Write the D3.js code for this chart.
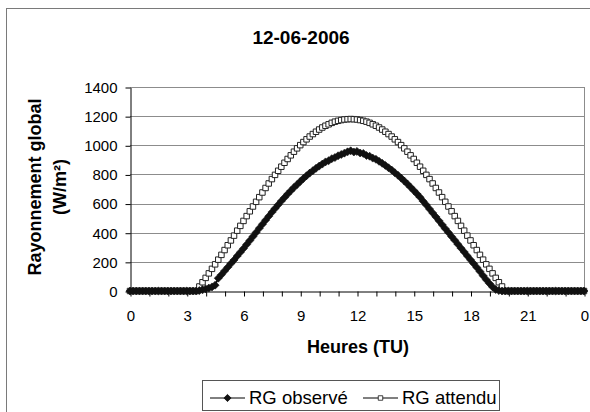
<!DOCTYPE html>
<html>
<head>
<meta charset="utf-8">
<script src="https://cdn.jsdelivr.net/npm/d3@7"></script>
<style>
body { margin: 0; background: #fff; }
text { font-family: "Liberation Sans", Arial, sans-serif; fill: #000; }
</style>
</head>
<body>
<div id="chart"></div>
<script>
// chart texts
var mainTitle = "12-06-2006";
var xTitle = "Heures (TU)";
var yTitleLines = ["Rayonnement global", "(W/m²)"];
var seriesNames = ["RG observé", "RG attendu"];

// x categories are 10 minute steps, 0:00 .. 24:00 (145 values)
var xTickLabels = ["0", "3", "6", "9", "12", "15", "18", "21", "0"];
var yTickValues = [0, 200, 400, 600, 800, 1000, 1200, 1400];

// RG observé (W/m2), one value every 10 minutes
var rgObserve = [
	0, 0, 0, 0, 0, 0, 0, 0, 0, 0, 0, 0, 0, 0, 0, 0, 0, 0, 0, 0, 0, 0,
	3, 8, 14, 20, 28, 40, 88, 112, 138, 163, 188, 213, 240, 266,
	292, 319, 346, 374, 402, 430, 458, 486, 513, 540, 566, 592,
	617, 641, 665, 688, 710, 731, 752, 772, 791, 809, 826, 842,
	857, 871, 886, 894, 908, 916, 928, 937, 946, 955, 962,
	954, 958, 947, 944, 930, 925, 912, 904, 890, 876, 862, 846,
	830, 812, 794, 775, 755, 734, 712, 690, 667, 643, 616, 590,
	563, 536, 509, 482, 455, 428, 401, 374, 348, 321, 294, 268,
	241, 214, 188, 162, 134, 105, 78, 52, 28, 10, 3, 0,
	0, 0, 0, 0, 0, 0, 0, 0, 0, 0, 0, 0, 0, 0, 0, 0, 0, 0, 0, 0, 0, 0, 0, 0, 0, 0
];

// RG attendu (W/m2), one value every 10 minutes
var rgAttendu = [
	0, 0, 0, 0, 0, 0, 0, 0, 0, 0, 0, 0, 0, 0, 0, 0, 0, 0, 0, 0, 0, 0,
	31, 60, 90, 121, 152, 183, 215, 248, 281, 314, 347, 380, 414, 447,
	481, 514, 547, 580, 612, 644, 676, 707, 738, 768, 797, 825,
	853, 880, 906, 931, 956, 979, 1001, 1022, 1041, 1060, 1077, 1093,
	1108, 1122, 1134, 1144, 1154, 1162, 1168, 1173, 1177, 1179, 1180,
	1179, 1177, 1173, 1168, 1162, 1154, 1144, 1134, 1122, 1108, 1093, 1077,
	1060, 1041, 1022, 1001, 979, 956, 931, 906, 880, 853, 825, 797,
	768, 738, 707, 676, 644, 612, 580, 547, 514, 481, 447, 414,
	380, 347, 314, 281, 248, 215, 183, 152, 121, 90, 60, 31,
	0, 0, 0, 0, 0, 0, 0, 0, 0, 0, 0, 0, 0, 0, 0, 0, 0, 0, 0, 0, 0, 0, 0, 0, 0, 0
];

function d3LinePlot(id) {
	var w = 590, h = 412;
	var plot = {left: 130, right: 584, top: 87, bottom: 291};

	var svg = d3.select("#" + id).append("svg")
		.attr("width", w)
		.attr("height", h);

	// outer chart frame
	svg.append("rect")
		.attr("x", 6.5).attr("y", 8.5)
		.attr("width", 700).attr("height", 500)
		.attr("fill", "none")
		.attr("stroke", "#7a7a7a");

	var x = d3.scaleLinear().domain([0, rgObserve.length - 1]).range([plot.left, plot.right]);
	var y = d3.scaleLinear().domain([0, 1400]).range([plot.bottom, plot.top]);

	// grid lines
	svg.append("g")
		.selectAll("line")
		.data(yTickValues.slice(1))
		.enter().append("line")
		.attr("x1", plot.left).attr("x2", plot.right)
		.attr("y1", function(d) { return Math.round(y(d)) + 0.5; })
		.attr("y2", function(d) { return Math.round(y(d)) + 0.5; })
		.attr("stroke", "#8c8c8c");

	// right border of plot area
	svg.append("line")
		.attr("x1", plot.right + 0.5).attr("x2", plot.right + 0.5)
		.attr("y1", y(1400)).attr("y2", plot.bottom)
		.attr("stroke", "#8c8c8c");

	// y axis
	var yAxis = svg.append("g")
		.attr("transform", "translate(" + (plot.left + 0.5) + ",0.5)")
		.call(d3.axisLeft(y).tickValues(yTickValues).tickFormat(d3.format("d"))
			.tickSize(5).tickSizeOuter(0).tickPadding(8));
	yAxis.selectAll("text").style("font-size", "15px").attr("font-family", null);
	yAxis.select(".domain").attr("stroke", "#000");

	// x axis, tick every hour, label every 3 hours
	var xAxis = svg.append("g")
		.attr("transform", "translate(0.5," + (plot.bottom + 0.5) + ")")
		.call(d3.axisBottom(x)
			.tickValues(d3.range(0, rgObserve.length, 6))
			.tickSize(5).tickSizeOuter(0).tickPadding(14)
			.tickFormat(function(d) { return d % 18 === 0 ? xTickLabels[d / 18] : ""; }));
	xAxis.selectAll("text").style("font-size", "15px").attr("font-family", null);

	// series
	var line = d3.line()
		.x(function(d, i) { return x(i); })
		.y(function(d) { return y(d); });

	svg.append("path")
		.datum(rgAttendu)
		.attr("d", line)
		.attr("fill", "none")
		.attr("stroke", "#000")
		.attr("stroke-width", 1);

	var square = d3.symbol().type(d3.symbolSquare).size(30);
	svg.append("g")
		.selectAll("path")
		.data(rgAttendu)
		.enter().append("path")
		.attr("d", square)
		.attr("transform", function(d, i) { return "translate(" + x(i) + "," + y(d) + ")"; })
		.attr("fill", "#fff")
		.attr("stroke", "#222")
		.attr("stroke-width", 1);

	svg.append("path")
		.datum(rgObserve)
		.attr("d", line)
		.attr("fill", "none")
		.attr("stroke", "#000")
		.attr("stroke-width", 1.5);

	var diamond = d3.symbol().type(d3.symbolSquare).size(32);
	svg.append("g")
		.selectAll("path")
		.data(rgObserve)
		.enter().append("path")
		.attr("d", diamond)
		.attr("transform", function(d, i) { return "translate(" + x(i) + "," + y(d) + ") rotate(45)"; })
		.attr("fill", "#111")
		.attr("stroke", "#111")
		.attr("stroke-width", 0.6);

	// titles
	svg.append("text")
		.attr("x", 301).attr("y", 44)
		.attr("text-anchor", "middle")
		.style("font-size", "19px").style("font-weight", "bold")
		.text(mainTitle);

	svg.append("text")
		.attr("x", 358).attr("y", 353)
		.attr("text-anchor", "middle")
		.style("font-size", "18px").style("font-weight", "bold")
		.text(xTitle);

	svg.selectAll(".ytitle")
		.data(yTitleLines)
		.enter().append("text")
		.attr("class", "ytitle")
		.attr("text-anchor", "middle")
		.attr("transform", function(d, i) { return "translate(" + (41 + i * 25) + ",187) rotate(-90)"; })
		.style("font-size", "18px").style("font-weight", "bold")
		.text(function(d) { return d; });

	// legend
	var legend = svg.append("g");
	legend.append("rect")
		.attr("x", 202.5).attr("y", 380.5)
		.attr("width", 297).attr("height", 30)
		.attr("fill", "#fff")
		.attr("stroke", "#555");

	var items = [
		{name: seriesNames[0], x: 210, symbol: d3.symbol().type(d3.symbolSquare).size(26), fill: "#111", rot: 45},
		{name: seriesNames[1], x: 363, symbol: d3.symbol().type(d3.symbolSquare).size(20), fill: "#fff", rot: 0}
	];
	items.forEach(function(it) {
		legend.append("line")
			.attr("x1", it.x).attr("x2", it.x + 35)
			.attr("y1", 398).attr("y2", 398)
			.attr("stroke", "#000");
		legend.append("path")
			.attr("d", it.symbol)
			.attr("transform", "translate(" + (it.x + 17.5) + ",398) rotate(" + it.rot + ")")
			.attr("fill", it.fill)
			.attr("stroke", "#111")
			.attr("stroke-width", 0.8);
		legend.append("text")
			.attr("x", it.x + 39).attr("y", 404)
			.style("font-size", "18.5px")
			.text(it.name);
	});
}

d3LinePlot("chart");
</script>
</body>
</html>
